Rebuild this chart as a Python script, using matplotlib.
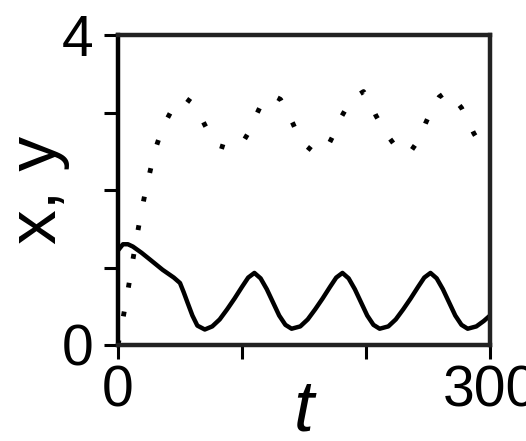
import matplotlib
matplotlib.use('Agg')
import matplotlib.pyplot as plt

plt.rcParams['font.family'] = ['Liberation Sans', 'DejaVu Sans']

# dotted curve: x(t)
t_x = [0, 3, 6, 9, 12, 15, 18, 22, 26, 30, 35, 40, 45, 50, 55, 60, 65, 70, 76, 82,
       88, 94, 100, 106, 111, 116, 121, 126, 131, 136, 141, 146, 151, 157, 163, 169,
       175, 180, 185, 191, 198, 203, 208, 213, 218, 224, 231, 237, 243, 248, 253,
       259, 265, 271, 277, 282, 287, 292, 297, 300]
x_vals = [0.0, 0.25, 0.52, 0.8, 1.1, 1.38, 1.65, 1.97, 2.25, 2.52, 2.76, 2.93, 3.08,
          3.17, 3.18, 3.12, 3.0, 2.84, 2.66, 2.57, 2.54, 2.54, 2.6, 2.76, 2.95, 3.12,
          3.2, 3.21, 3.17, 3.02, 2.86, 2.68, 2.58, 2.5, 2.48, 2.56, 2.75, 2.94, 3.08,
          3.2, 3.27, 3.14, 2.96, 2.82, 2.69, 2.56, 2.47, 2.52, 2.66, 2.86, 3.04, 3.2,
          3.27, 3.18, 3.06, 2.9, 2.73, 2.6, 2.51, 2.48]

# solid curve: y(t)
t_y = [0, 4, 8, 12, 19, 26, 36, 45, 50, 53, 56, 60, 64, 70, 76, 82, 88, 94, 100,
       105, 110, 115, 120, 125, 130, 135, 140, 147, 153, 159, 165, 171, 176, 181,
       186, 191, 196, 201, 206, 211, 218, 224, 230, 236, 242, 247, 252, 257, 262,
       267, 272, 277, 282, 289, 295, 300]
y_vals = [1.22, 1.30, 1.30, 1.27, 1.19, 1.10, 0.97, 0.87, 0.80, 0.68, 0.55, 0.38,
          0.25, 0.20, 0.24, 0.33, 0.46, 0.60, 0.75, 0.87, 0.93, 0.86, 0.72, 0.55,
          0.38, 0.26, 0.21, 0.24, 0.33, 0.46, 0.60, 0.75, 0.87, 0.93, 0.86, 0.72,
          0.55, 0.38, 0.26, 0.21, 0.24, 0.33, 0.46, 0.60, 0.75, 0.87, 0.93, 0.86,
          0.72, 0.55, 0.38, 0.26, 0.21, 0.24, 0.31, 0.38]

x_ticks = [0, 100, 200, 300]
x_ticklabels = ['0', '', '', '300']
y_ticks = [0, 1, 2, 3, 4]
y_ticklabels = ['0', '', '', '', '4']

fig = plt.figure(figsize=(5.26, 4.41), dpi=100)
ax = fig.add_axes([118 / 526, 1 - 345 / 441, 372 / 526, 310 / 441])

ax.plot(t_x, x_vals, color='black', lw=3.5, linestyle=(0, (1, 5)))
ax.plot(t_y, y_vals, color='black', lw=3.2)

ax.set_xlim(0, 300)
ax.set_ylim(0, 4)
ax.set_xticks(x_ticks)
ax.set_xticklabels(x_ticklabels)
ax.set_yticks(y_ticks)
ax.set_yticklabels(y_ticklabels)
ax.tick_params(direction='out', length=10, width=2.2, labelsize=41)
ax.tick_params(axis='y', pad=8)
ax.tick_params(axis='x', pad=4)

for side in ['left', 'bottom', 'top', 'right']:
    ax.spines[side].set_linewidth(3.2)
    ax.spines[side].set_color('#222222')
ax.spines['left'].set_color('black')

ax.set_ylabel('x, y', fontsize=50)
ax.yaxis.set_label_coords(-0.13, 0.5)
ax.set_xlabel('t', fontsize=52, style='italic')
ax.xaxis.set_label_coords(0.5, -0.105)

fig.savefig('out.png', dpi=100)
